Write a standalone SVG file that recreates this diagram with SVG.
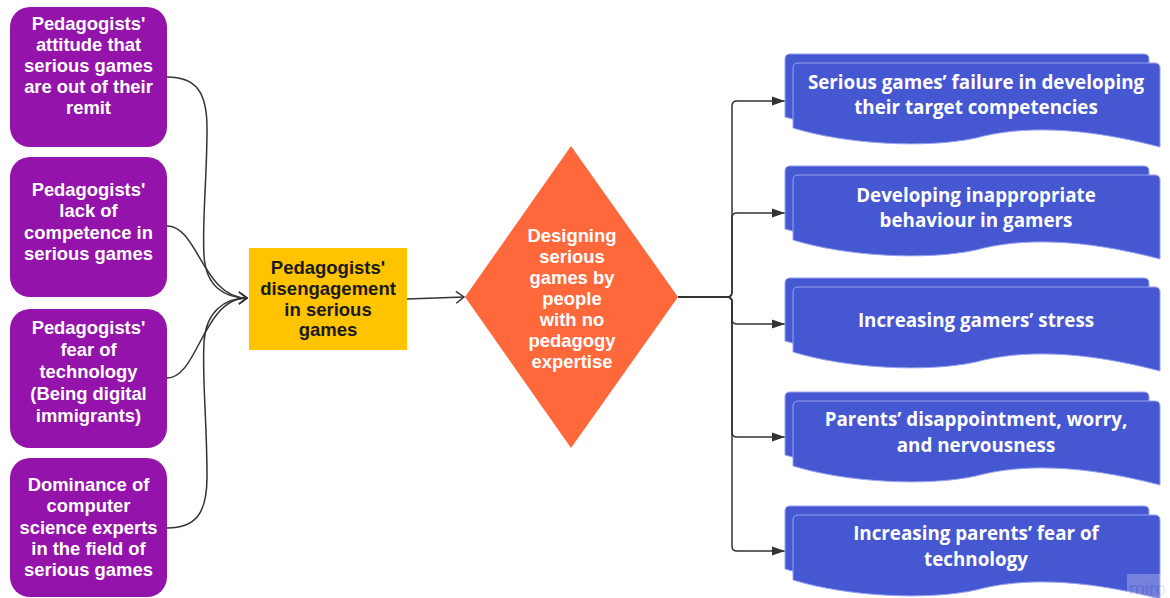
<svg xmlns="http://www.w3.org/2000/svg" width="1170" height="598" viewBox="0 0 1170 598">
  <style>
    .cause { fill: #9313ab; }
    .cause-t { font-family: "Liberation Sans", Arial, sans-serif; font-weight: 700; font-size: 18.4px; fill: #ffffff; text-anchor: middle; }
    .mid-t { font-family: "Liberation Sans", Arial, sans-serif; font-weight: 700; font-size: 18.5px; fill: #1a1a1a; text-anchor: middle; }
    .doc { fill: #4657d2; stroke: #97a3f0; stroke-width: 1; }
    .doc-t { font-family: "Open Sans", "Noto Sans", sans-serif; font-weight: 700; font-size: 18.8px; fill: #ffffff; text-anchor: middle; }
    .wire { fill: none; stroke: #333333; stroke-width: 1.5; }
  </style>
  <defs>
    <marker id="open" markerUnits="userSpaceOnUse" markerWidth="12" markerHeight="14" refX="9" refY="7" orient="auto" overflow="visible">
      <path d="M1,1 L9,7 L1,13" fill="none" stroke="#333333" stroke-width="1.5"/>
    </marker>
    <marker id="solid" markerUnits="userSpaceOnUse" markerWidth="14" markerHeight="10" refX="13" refY="5" orient="auto" overflow="visible">
      <path d="M0,0.5 L13,5 L0,9.5 z" fill="#333333"/>
    </marker>
    <!-- stacked-documents outline, top of the back sheet at y=0 -->
    <path id="sheetBack" d="M785,5 Q785,0 790,0 H1144 Q1149,0 1149,5 V84 C1072,63 1000,62 968,73 C918,86 842,80 785,63 Z"/>
    <path id="sheetFront" d="M793,14 Q793,9 798,9 H1155 Q1160,9 1160,14 V93 C1080,72 1020,72 976,84 C925,95 845,90 793,74 Z"/>
  </defs>

  <rect width="1170" height="598" fill="#ffffff"/>

  <!-- connectors -->
  <g id="connectors">
    <path class="wire" d="M167,77 C196,77 207,92 207,128 C207,180 202,220 204,256 C206,286 224,298 247,298" marker-end="url(#open)"/>
    <path class="wire" d="M167,226 C198,226 203,298 247,298" marker-end="url(#open)"/>
    <path class="wire" d="M167,378 C198,378 203,298 247,298" marker-end="url(#open)"/>
    <path class="wire" d="M167,528 C196,528 207,513 207,477 C207,420 202,380 204,342 C206,312 224,298 247,298" marker-end="url(#open)"/>
    <path class="wire" d="M407,299 L464,297" marker-end="url(#open)"/>
    <path class="wire" d="M678,297 H727 Q732,297 732,292 V106 Q732,101 737,101 H785" marker-end="url(#solid)"/>
    <path class="wire" d="M678,297 H727 Q732,297 732,292 V218 Q732,213 737,213 H785" marker-end="url(#solid)"/>
    <path class="wire" d="M678,297 H727 Q732,297 732,302 V319 Q732,324 737,324 H785" marker-end="url(#solid)"/>
    <path class="wire" d="M678,297 H727 Q732,297 732,302 V432 Q732,437 737,437 H785" marker-end="url(#solid)"/>
    <path class="wire" d="M678,297 H727 Q732,297 732,302 V546 Q732,551 737,551 H785" marker-end="url(#solid)"/>
  </g>

  <!-- causes -->
  <g id="cause-attitude">
    <rect class="cause" x="10" y="7" width="157" height="140" rx="20"/>
    <text class="cause-t" x="88.5" y="30">Pedagogists'</text>
    <text class="cause-t" x="88.5" y="51">attitude that</text>
    <text class="cause-t" x="88.5" y="72">serious games</text>
    <text class="cause-t" x="88.5" y="93">are out of their</text>
    <text class="cause-t" x="88.5" y="114">remit</text>
  </g>
  <g id="cause-competence">
    <rect class="cause" x="10" y="157" width="157" height="140" rx="20"/>
    <text class="cause-t" x="88.5" y="196">Pedagogists'</text>
    <text class="cause-t" x="88.5" y="217">lack of</text>
    <text class="cause-t" x="88.5" y="239">competence in</text>
    <text class="cause-t" x="88.5" y="260">serious games</text>
  </g>
  <g id="cause-fear">
    <rect class="cause" x="10" y="309" width="157" height="139" rx="20"/>
    <text class="cause-t" x="88.5" y="334">Pedagogists'</text>
    <text class="cause-t" x="88.5" y="356">fear of</text>
    <text class="cause-t" x="88.5" y="378">technology</text>
    <text class="cause-t" x="88.5" y="400">(Being digital</text>
    <text class="cause-t" x="88.5" y="422">immigrants)</text>
  </g>
  <g id="cause-dominance">
    <rect class="cause" x="10" y="458" width="157" height="139" rx="20"/>
    <text class="cause-t" x="88.5" y="491">Dominance of</text>
    <text class="cause-t" x="88.5" y="512">computer</text>
    <text class="cause-t" x="88.5" y="534">science experts</text>
    <text class="cause-t" x="88.5" y="555">in the field of</text>
    <text class="cause-t" x="88.5" y="576">serious games</text>
  </g>

  <!-- central chain -->
  <g id="disengagement">
    <rect x="249" y="248" width="158" height="102" fill="#ffc300"/>
    <text class="mid-t" x="328" y="273.5">Pedagogists'</text>
    <text class="mid-t" x="328" y="294.5">disengagement</text>
    <text class="mid-t" x="328" y="315.5">in serious</text>
    <text class="mid-t" x="328" y="336">games</text>
  </g>
  <g id="design-decision">
    <polygon points="571,146 678,297 571,448 465,297" fill="#ff683b"/>
    <text class="cause-t" x="572" y="241.5">Designing</text>
    <text class="cause-t" x="572" y="262.5">serious</text>
    <text class="cause-t" x="572" y="283.5">games by</text>
    <text class="cause-t" x="572" y="304.5">people</text>
    <text class="cause-t" x="572" y="325.5">with no</text>
    <text class="cause-t" x="572" y="346.5">pedagogy</text>
    <text class="cause-t" x="572" y="367.5">expertise</text>
  </g>

  <!-- effects -->
  <g id="effect-failure" transform="translate(0,54)">
    <use href="#sheetBack" class="doc"/>
    <use href="#sheetFront" class="doc"/>
    <text class="doc-t" x="976" y="35">Serious games’ failure in developing</text>
    <text class="doc-t" x="976" y="60">their target competencies</text>
  </g>
  <g id="effect-behaviour" transform="translate(0,166)">
    <use href="#sheetBack" class="doc"/>
    <use href="#sheetFront" class="doc"/>
    <text class="doc-t" x="976" y="36">Developing inappropriate</text>
    <text class="doc-t" x="976" y="61">behaviour in gamers</text>
  </g>
  <g id="effect-stress" transform="translate(0,278)">
    <use href="#sheetBack" class="doc"/>
    <use href="#sheetFront" class="doc"/>
    <text class="doc-t" x="976" y="49">Increasing gamers’ stress</text>
  </g>
  <g id="effect-parents-worry" transform="translate(0,392)">
    <use href="#sheetBack" class="doc"/>
    <use href="#sheetFront" class="doc"/>
    <text class="doc-t" x="976" y="34">Parents’ disappointment, worry,</text>
    <text class="doc-t" x="976" y="60">and nervousness</text>
  </g>
  <g id="effect-parents-fear" transform="translate(0,506)">
    <use href="#sheetBack" class="doc"/>
    <use href="#sheetFront" class="doc"/>
    <text class="doc-t" x="976" y="34">Increasing parents’ fear of</text>
    <text class="doc-t" x="976" y="60">technology</text>
  </g>

  <!-- board watermark -->
  <g id="watermark" opacity="0.25">
    <rect x="1127" y="574" width="43" height="24" fill="#ffffff"/>
    <text x="1129" y="595" font-family="Liberation Sans, Arial, sans-serif" font-size="19" fill="#b0b4cc">miro</text>
  </g>
</svg>
